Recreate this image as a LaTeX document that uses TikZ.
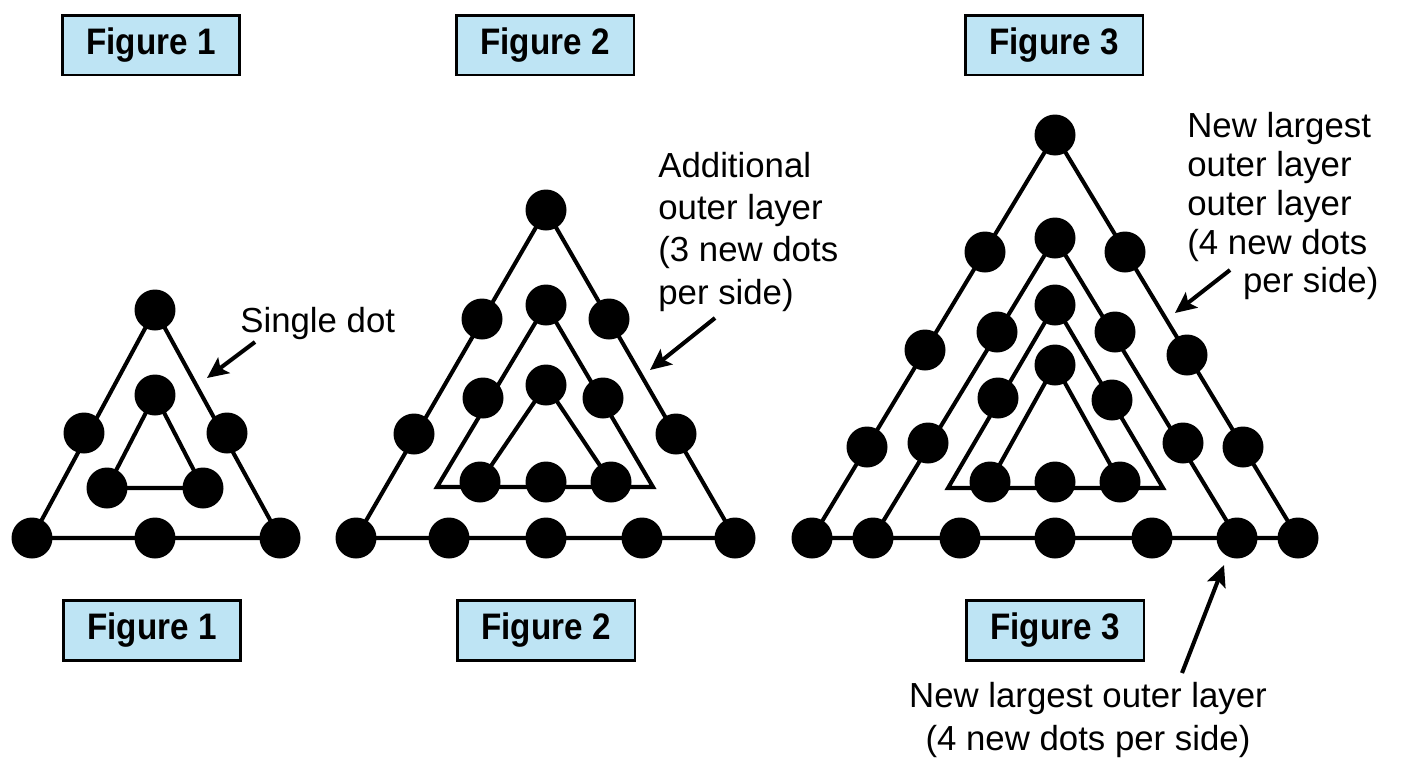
\documentclass[tikz,border=0pt]{standalone}
\usepackage{fontspec}
\setmainfont{Liberation Sans}
\newfontfamily\condsans[FakeStretch=0.9]{Liberation Sans}
\usetikzlibrary{arrows.meta}
\definecolor{boxblue}{RGB}{190,228,244}
\pgfdeclarelayer{back}
\pgfdeclarelayer{bg}
\pgfsetlayers{back,bg,main}
\begin{document}
\begin{tikzpicture}[x=0.02cm,y=-0.02cm,
 dot/.style={circle,fill=black,inner sep=0pt,minimum size=0.82cm},
 edge/.style={line width=2.3pt,line join=miter},
 figbox/.style={draw=black,line width=1.7pt,fill=boxblue,minimum width=3.56cm,minimum height=1.2cm,inner sep=0pt,font=\condsans\fontsize{21}{24}\selectfont\bfseries},
 lbl/.style={inner sep=0pt,font=\fontsize{19.8}{24}\selectfont},
 arr/.style={line width=2.3pt,-{Stealth[length=12pt,width=11pt,inset=2.5pt]}}]
\begin{pgfonlayer}{back}
\fill[white] (0,0) rectangle (1408,768);
\end{pgfonlayer}
\useasboundingbox (0,0) rectangle (1408,768);

% ---------- title boxes ----------
\node[figbox] (t1) at (151,45) {Figure 1};
\node[figbox] (t2) at (545,45) {Figure 2};
\node[figbox] (t3) at (1054,45) {Figure 3};
\node[figbox] (u1) at (152,630) {Figure 1};
\node[figbox] (u2) at (546,630) {Figure 2};
\node[figbox] (u3) at (1055,630) {Figure 3};

% ---------- Figure 1 ----------
\node[dot] (a1) at (155,310) {};
\node[dot] (a2) at (84,433) {};
\node[dot] (a3) at (227,433) {};
\node[dot] (a4) at (32,538) {};
\node[dot] (a5) at (155,538) {};
\node[dot] (a6) at (280,538) {};
\node[dot] (b1) at (155,395) {};
\node[dot] (b2) at (107,488) {};
\node[dot] (b3) at (203,488) {};

% ---------- Figure 2 ----------
\node[dot] (c1) at (546,210) {};
\node[dot] (c2) at (482,319) {};
\node[dot] (c3) at (609,319) {};
\node[dot] (c4) at (414,434) {};
\node[dot] (c5) at (676,434) {};
\node[dot] (c6) at (356,538) {};
\node[dot] (c7) at (449,538) {};
\node[dot] (c8) at (546,538) {};
\node[dot] (c9) at (642,538) {};
\node[dot] (c10) at (735,538) {};
\node[dot] (d1) at (546,305) {};
\node[dot] (d2) at (483,398) {};
\node[dot] (d3) at (603,398) {};
\coordinate (dl) at (437,487);
\coordinate (dr) at (653,487);
\node[dot] (e1) at (546,385) {};
\node[dot] (e2) at (480,482) {};
\node[dot] (e3) at (546,482) {};
\node[dot] (e4) at (611,482) {};

% ---------- Figure 3 ----------
\node[dot] (f1) at (1055,135) {};
\node[dot] (f2) at (985,252) {};
\node[dot] (f3) at (1125,252) {};
\node[dot] (f4) at (925,350) {};
\node[dot] (f5) at (1187,355) {};
\node[dot] (f6) at (867,447) {};
\node[dot] (f7) at (1243,447) {};
\node[dot] (f8) at (812,538) {};
\node[dot] (f9) at (873,538) {};
\node[dot] (f10) at (960,538) {};
\node[dot] (f11) at (1055,538) {};
\node[dot] (f12) at (1152,538) {};
\node[dot] (f13) at (1237,538) {};
\node[dot] (f14) at (1298,538) {};
\node[dot] (g1) at (1055,238) {};
\node[dot] (g2) at (997,332) {};
\node[dot] (g3) at (1115,332) {};
\node[dot] (g4) at (928,443) {};
\node[dot] (g5) at (1183,443) {};
\node[dot] (h1) at (1055,305) {};
\node[dot] (h2) at (998,398) {};
\node[dot] (h3) at (1112,400) {};
\coordinate (hl) at (948,488);
\coordinate (hr) at (1163,488);
\node[dot] (h4) at (990,482) {};
\node[dot] (h5) at (1055,482) {};
\node[dot] (h6) at (1120,482) {};
\node[dot] (i1) at (1055,365) {};

% ---------- lines behind dots ----------
\begin{pgfonlayer}{bg}
\draw[edge] (a1.center) -- (a4.center) -- (a6.center) -- cycle;
\draw[edge] (b1.center) -- (b2.center) -- (b3.center) -- cycle;
\draw[edge] (c1.center) -- (c6.center) -- (c10.center) -- cycle;
\draw[edge] (d1.center) -- (dl) -- (dr) -- cycle;
\draw[edge] (e2.center) -- (e1.center) -- (e4.center);
\draw[edge] (f1.center) -- (f8.center) -- (f14.center) -- cycle;
\draw[edge] (f9.center) -- (g1.center) -- (f13.center);
\draw[edge] (h1.center) -- (hl) -- (hr) -- cycle;
\draw[edge] (h4.center) -- (i1.center) -- (h6.center);
\end{pgfonlayer}

% ---------- labels ----------
\node[lbl,anchor=base west] (l1) at (240,332) {Single dot};
\node[lbl,anchor=north west,align=left] (l2) at (658,152)
  {Additional\\outer layer\\(3 new dots\\per side)};
\node[lbl,anchor=north west,align=left,font=\fontsize{19.8}{22.1}\selectfont] (l3) at (1187,112)
  {New largest\\outer layer\\outer layer\\(4 new dots\\\hspace*{31.7pt}per side)};
\node[lbl,anchor=north,align=center,font=\fontsize{19.8}{24.4}\selectfont] (l4) at (1088,682)
  {New largest outer layer\\(4 new dots per side)};

% ---------- arrows ----------
\coordinate (p1) at (255,342);
\coordinate (q1) at (207,378);
\coordinate (p2) at (715,318);
\coordinate (q2) at (650,370);
\coordinate (p3) at (1230,270);
\coordinate (q3) at (1175,313);
\coordinate (p4) at (1182,673);
\coordinate (q4) at (1224,565);
\draw[arr] (p1) -- (q1);
\draw[arr] (p2) -- (q2);
\draw[arr] (p3) -- (q3);
\draw[arr] (p4) -- (q4);
\end{tikzpicture}
\end{document}
